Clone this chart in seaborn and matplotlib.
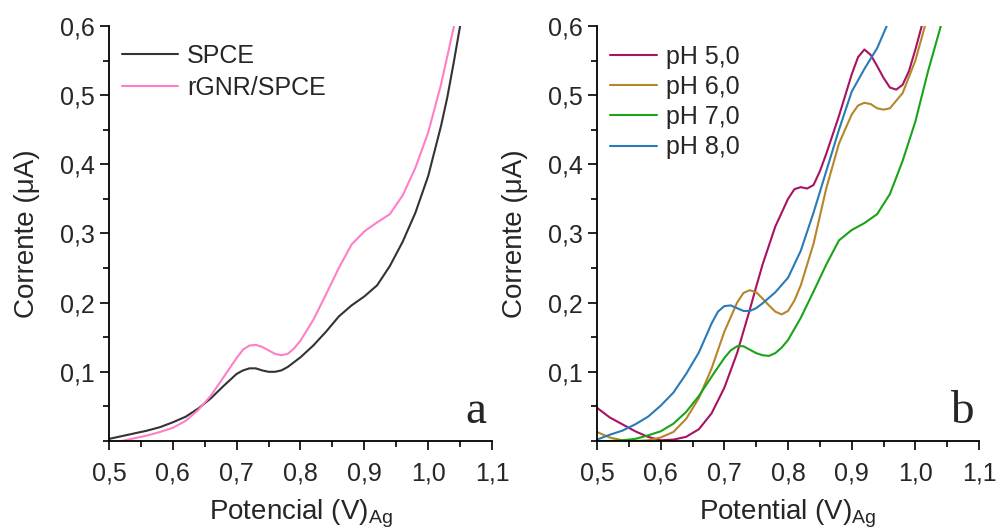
import numpy as np
import pandas as pd
import seaborn as sns
import matplotlib
matplotlib.use("Agg")
import matplotlib.pyplot as plt
from matplotlib.ticker import MultipleLocator, FuncFormatter

# ---- Panel a data ----
spce_x = [0.50, 0.52, 0.54, 0.56, 0.58, 0.60, 0.62, 0.64, 0.66, 0.68, 0.70, 0.71, 0.72, 0.73, 0.74,
          0.75, 0.76, 0.77, 0.78, 0.80, 0.82, 0.84, 0.86, 0.88, 0.90, 0.92, 0.94, 0.96, 0.98, 1.00,
          1.02, 1.03, 1.04, 1.05, 1.06]
spce_y = [0.003, 0.007, 0.011, 0.015, 0.020, 0.027, 0.035, 0.047, 0.062, 0.080, 0.097, 0.102, 0.105,
          0.105, 0.102, 0.100, 0.100, 0.102, 0.107, 0.121, 0.138, 0.158, 0.180, 0.196, 0.209, 0.225,
          0.253, 0.288, 0.330, 0.383, 0.455, 0.497, 0.547, 0.600, 0.655]

rgnr_x = [0.50, 0.52, 0.54, 0.56, 0.58, 0.60, 0.62, 0.64, 0.66, 0.68, 0.70, 0.71, 0.72, 0.73, 0.74,
          0.75, 0.76, 0.77, 0.78, 0.79, 0.80, 0.82, 0.84, 0.86, 0.88, 0.90, 0.92, 0.94, 0.96, 0.98,
          1.00, 1.02, 1.04, 1.05]
rgnr_y = [-0.004, 0.000, 0.004, 0.008, 0.013, 0.019, 0.029, 0.045, 0.066, 0.093, 0.120, 0.132, 0.138,
          0.139, 0.136, 0.131, 0.126, 0.124, 0.126, 0.134, 0.145, 0.175, 0.212, 0.250, 0.284, 0.303,
          0.316, 0.328, 0.355, 0.395, 0.446, 0.515, 0.598, 0.640]

# ---- Panel b data ----
ph5_x = [0.50, 0.52, 0.54, 0.56, 0.58, 0.60, 0.62, 0.64, 0.66, 0.68, 0.70, 0.72, 0.74, 0.75, 0.76,
         0.78, 0.80, 0.81, 0.82, 0.83, 0.84, 0.85, 0.86, 0.88, 0.90, 0.91, 0.92, 0.93, 0.94, 0.95,
         0.96, 0.97, 0.98, 0.99, 1.00, 1.01, 1.02]
ph5_y = [0.048, 0.034, 0.024, 0.014, 0.006, 0.001, 0.002, 0.006, 0.017, 0.040, 0.077, 0.127, 0.190,
         0.223, 0.255, 0.310, 0.350, 0.364, 0.367, 0.365, 0.370, 0.390, 0.415, 0.470, 0.530, 0.555,
         0.566, 0.558, 0.542, 0.525, 0.511, 0.508, 0.515, 0.535, 0.566, 0.600, 0.645]

ph6_x = [0.50, 0.52, 0.54, 0.56, 0.58, 0.60, 0.62, 0.64, 0.66, 0.68, 0.70, 0.72, 0.73, 0.74, 0.75,
         0.76, 0.77, 0.78, 0.79, 0.80, 0.81, 0.82, 0.84, 0.86, 0.88, 0.90, 0.91, 0.92, 0.93, 0.94,
         0.95, 0.96, 0.98, 1.00, 1.015, 1.03]
ph6_y = [0.013, 0.005, 0.001, 0.000, 0.001, 0.005, 0.013, 0.032, 0.062, 0.105, 0.158, 0.200, 0.214,
         0.218, 0.215, 0.206, 0.196, 0.187, 0.183, 0.188, 0.203, 0.225, 0.285, 0.365, 0.430, 0.472,
         0.485, 0.489, 0.487, 0.481, 0.479, 0.481, 0.503, 0.550, 0.600, 0.655]

ph7_x = [0.50, 0.52, 0.54, 0.56, 0.58, 0.60, 0.62, 0.64, 0.66, 0.68, 0.70, 0.71, 0.72, 0.73, 0.74,
         0.75, 0.76, 0.77, 0.78, 0.79, 0.80, 0.82, 0.84, 0.86, 0.88, 0.90, 0.92, 0.94, 0.96, 0.98,
         1.00, 1.02, 1.04, 1.05]
ph7_y = [0.000, 0.000, 0.001, 0.003, 0.008, 0.014, 0.025, 0.042, 0.065, 0.093, 0.120, 0.131, 0.137,
         0.137, 0.132, 0.127, 0.124, 0.123, 0.127, 0.135, 0.146, 0.178, 0.216, 0.255, 0.290, 0.305,
         0.315, 0.328, 0.357, 0.405, 0.462, 0.535, 0.600, 0.640]

ph8_x = [0.50, 0.52, 0.54, 0.56, 0.58, 0.60, 0.62, 0.64, 0.66, 0.68, 0.69, 0.70, 0.71, 0.72, 0.73,
         0.74, 0.75, 0.76, 0.78, 0.80, 0.82, 0.84, 0.86, 0.88, 0.90, 0.92, 0.94, 0.955, 0.97]
ph8_y = [0.002, 0.009, 0.015, 0.024, 0.035, 0.051, 0.070, 0.097, 0.128, 0.170, 0.187, 0.195, 0.196,
         0.192, 0.188, 0.188, 0.192, 0.199, 0.215, 0.236, 0.275, 0.330, 0.390, 0.450, 0.505, 0.538,
         0.568, 0.600, 0.640]

x_ticks = [0.5, 0.6, 0.7, 0.8, 0.9, 1.0, 1.1]
y_ticks = [0.1, 0.2, 0.3, 0.4, 0.5, 0.6]

sns.set_theme(style="ticks")
plt.rcParams['font.family'] = ['Liberation Sans', 'DejaVu Sans']

fig = plt.figure(figsize=(9.97, 5.29), dpi=100)
ax1 = fig.add_axes([0.1093, 0.1664, 0.3842, 0.7845])
ax2 = fig.add_axes([0.5988, 0.1664, 0.3832, 0.7845])

df_a = pd.concat([
    pd.DataFrame({"x": spce_x, "y": spce_y, "s": "SPCE"}),
    pd.DataFrame({"x": rgnr_x, "y": rgnr_y, "s": "rGNR/SPCE"}),
])
df_b = pd.concat([
    pd.DataFrame({"x": ph5_x, "y": ph5_y, "s": "pH 5,0"}),
    pd.DataFrame({"x": ph6_x, "y": ph6_y, "s": "pH 6,0"}),
    pd.DataFrame({"x": ph7_x, "y": ph7_y, "s": "pH 7,0"}),
    pd.DataFrame({"x": ph8_x, "y": ph8_y, "s": "pH 8,0"}),
])

pal_a = {"SPCE": "#333333", "rGNR/SPCE": "#FF7FC6"}
pal_b = {"pH 5,0": "#A8125F", "pH 6,0": "#B5862A", "pH 7,0": "#1AA31A", "pH 8,0": "#2A7AB8"}

sns.lineplot(data=df_a, x="x", y="y", hue="s", palette=pal_a, ax=ax1, lw=1.5,
             estimator=None, sort=False)
sns.lineplot(data=df_b, x="x", y="y", hue="s", palette=pal_b, ax=ax2, lw=1.5,
             estimator=None, sort=False)

comma = FuncFormatter(lambda v, p: f"{v:.1f}".replace(".", ","))

for ax, xlabel, letter, hl, lsp, ly in [(ax1, "Potencial (V)$_{\\mathregular{Ag}}$", "a", 2.25, 0.32, 0.957),
                                        (ax2, "Potential (V)$_{\\mathregular{Ag}}$", "b", 1.9, 0.25, 0.955)]:
    ax.set_xlim(0.5, 1.1)
    ax.set_ylim(0.0, 0.6)
    ax.set_xticks(x_ticks)
    ax.set_yticks(y_ticks)
    ax.xaxis.set_minor_locator(MultipleLocator(0.05))
    ax.yaxis.set_minor_locator(MultipleLocator(0.05))
    ax.xaxis.set_major_formatter(comma)
    ax.yaxis.set_major_formatter(comma)
    ax.tick_params(which="major", length=6.5, width=1.2, labelsize=18, direction="out",
                   color="black", pad=4)
    ax.tick_params(axis="x", which="major", pad=8)
    ax.tick_params(which="minor", length=4.3, width=1.2, direction="out", color="black")
    for sp in ["top", "right"]:
        ax.spines[sp].set_visible(False)
    for sp in ["left", "bottom"]:
        ax.spines[sp].set_linewidth(1.3)
        ax.spines[sp].set_color("black")
    ax.set_xlabel(xlabel, fontsize=20, labelpad=9)
    ax.set_ylabel("Corrente (\u03bcA)", fontsize=20, labelpad=14)
    ax.text(0.985, 0.02, letter, transform=ax.transAxes, ha="right", va="bottom",
            fontsize=34, family=["Liberation Serif", "DejaVu Serif"])
    leg = ax.legend(loc="upper left", frameon=False, fontsize=18, handlelength=hl,
                    handletextpad=0.35, labelspacing=lsp, borderaxespad=0.0,
                    borderpad=0.0, bbox_to_anchor=(0.034, ly))
    for line in leg.get_lines():
        line.set_linewidth(1.5)

fig.savefig("out.png", dpi=100)
